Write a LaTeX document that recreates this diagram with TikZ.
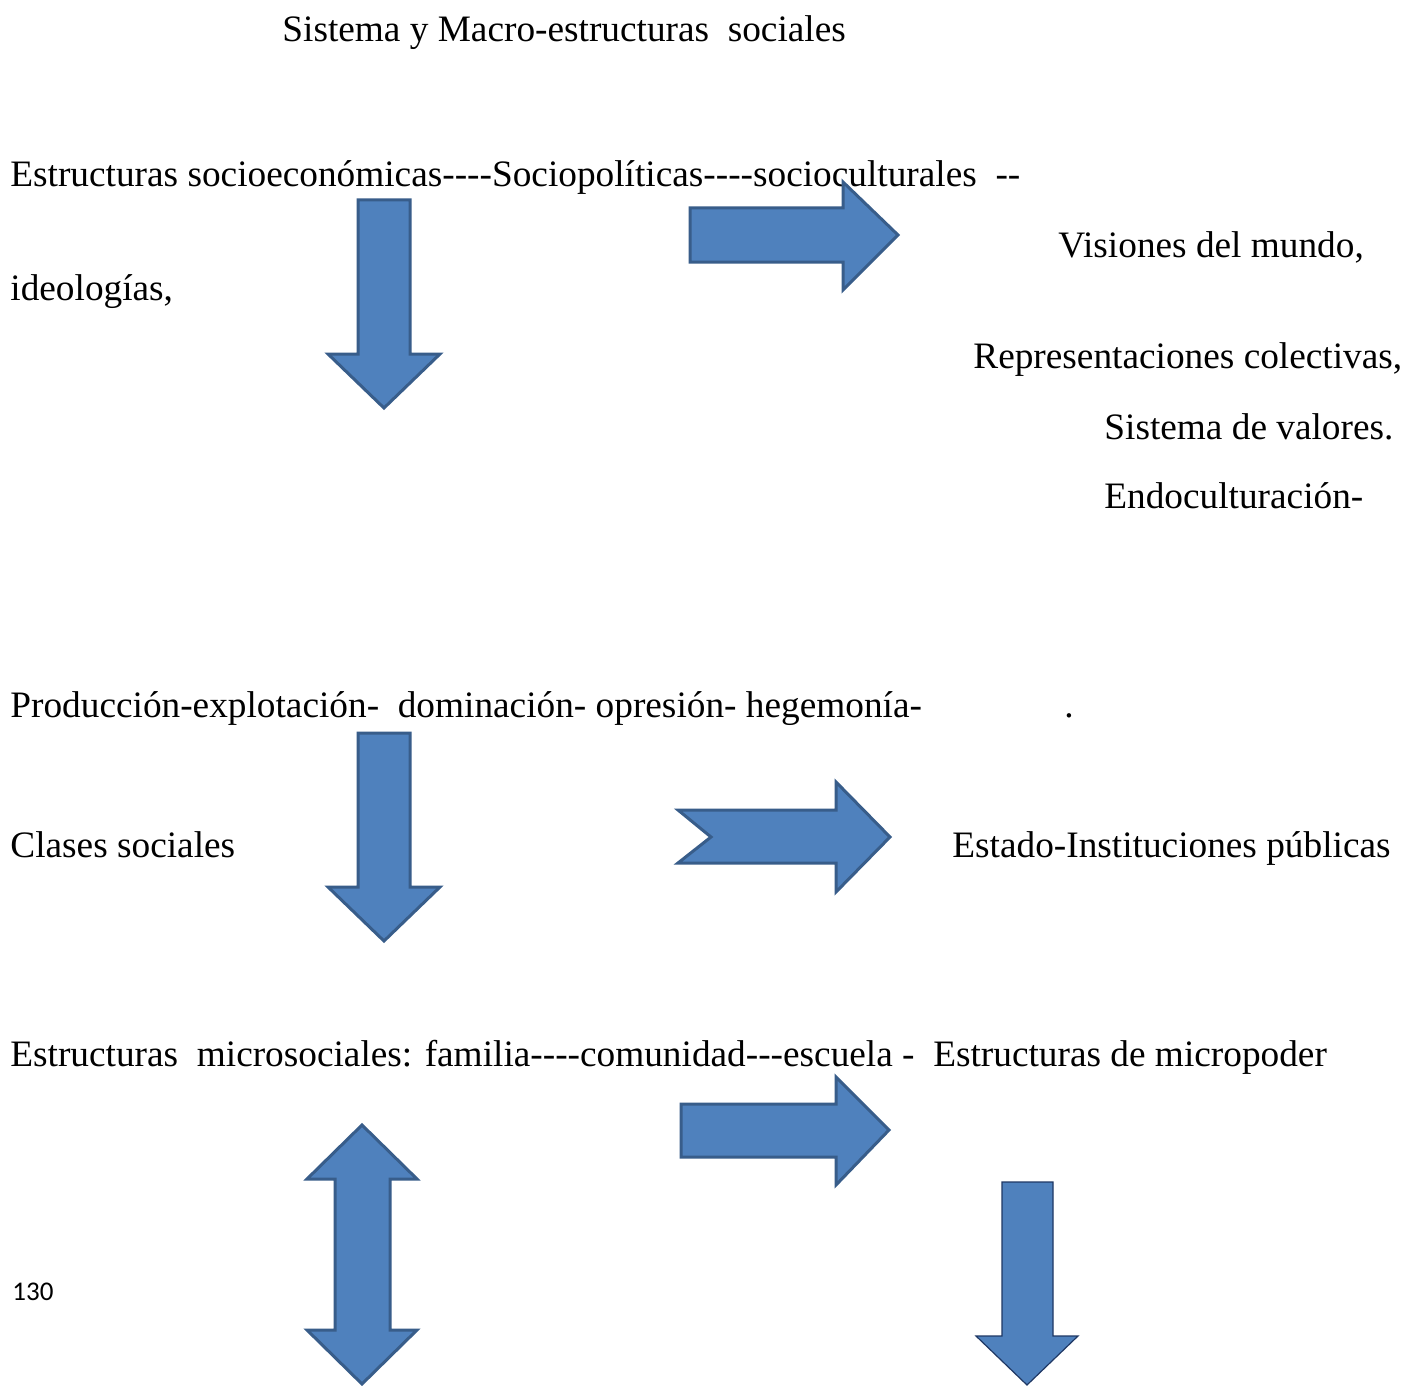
\documentclass[tikz,border=0pt]{standalone}
\usepackage{fontspec}
\setmainfont{Liberation Serif}[Ligatures=TeXOff]
\newfontfamily\pagenumfont{Carlito}
\definecolor{arrowfill}{HTML}{4F81BD}
\definecolor{arrowedge}{HTML}{385D8A}
\definecolor{arrownavy}{HTML}{1F3864}
\begin{document}
\begin{tikzpicture}[x=0.5pt,y=-0.5pt,
  txt/.style={anchor=base west,inner sep=0pt,font=\fontsize{18.65}{22}\selectfont},
  blockarrow/.style={fill=arrowfill,draw=arrowedge,line width=1.5pt,line join=miter},
  thinarrow/.style={fill=arrowfill,draw=arrownavy,line width=0.6pt,line join=miter}]
\useasboundingbox[fill=white] (0,0) rectangle (1404,1386);
% texts
\node[txt] (title) at (282,42) {Sistema y Macro-estructuras\ \ sociales};
\node[txt] (l1) at (10,187) {Estructuras socioeconómicas----Sociopolíticas----socioculturales\ \ --};
\node[txt] (l2) at (10,300) {ideologías,};
\node[txt] (v1) at (1058,257) {Visiones del mundo,};
\node[txt] (v2) at (973,368) {Representaciones colectivas,};
\node[txt] (v3) at (1104,439) {Sistema de valores.};
\node[txt] (v4) at (1104,508) {Endoculturación-};
\node[txt] (p1) at (10,717) {Producción-explotación-\ \ dominación- opresión- hegemonía-};
\node[txt] (p2) at (1064,717) {.};
\node[txt] (c1) at (10,857) {Clases sociales};
\node[txt] (c2) at (952,857) {Estado-Instituciones públicas};
\node[txt] (m1) at (10,1066) {Estructuras\ \ microsociales: familia----comunidad---escuela -\ \ Estructuras de micropoder};
\node[anchor=base west,inner sep=0pt,font=\pagenumfont\fontsize{13.5}{16}\selectfont] (pg) at (12,1300) {130};
% arrows
\draw[blockarrow] (358,200) -- (410,200) -- (410,354) -- (440,354) -- (384,408) -- (328,354) -- (358,354) -- cycle;
\draw[blockarrow] (690,208) -- (843,208) -- (843,182) -- (898,235) -- (843,290) -- (843,262) -- (690,262) -- cycle;
\draw[blockarrow] (358,733) -- (410,733) -- (410,887) -- (440,887) -- (384,941) -- (328,887) -- (358,887) -- cycle;
\draw[blockarrow] (678,810) -- (836,810) -- (836,782) -- (890,837) -- (836,892) -- (836,863) -- (678,863) -- (711,837) -- cycle;
\draw[blockarrow] (681,1104) -- (836,1104) -- (836,1077) -- (889,1130) -- (836,1185) -- (836,1157) -- (681,1157) -- cycle;
\draw[blockarrow] (362,1125) -- (417,1179) -- (390,1179) -- (390,1330) -- (417,1330) -- (362,1384) -- (307,1330) -- (335,1330) -- (335,1179) -- (307,1179) -- cycle;
\draw[thinarrow] (1002,1182) -- (1053,1182) -- (1053,1336) -- (1078,1336) -- (1027,1385) -- (976,1336) -- (1002,1336) -- cycle;
\end{tikzpicture}
\end{document}
